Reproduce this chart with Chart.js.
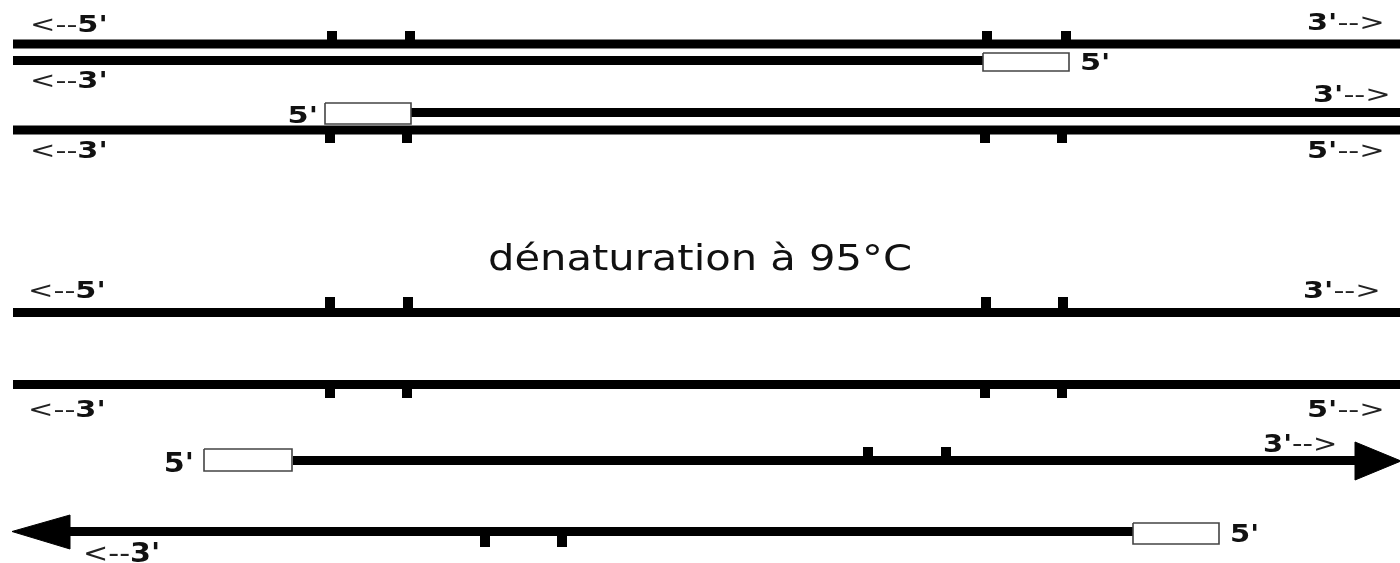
<!DOCTYPE html>
<html>
<head>
<meta charset="utf-8">
<script src="https://cdn.jsdelivr.net/npm/chart.js@4/dist/chart.umd.min.js"></script>
<style>
  html, body { margin: 0; padding: 0; background: #ffffff; }
  #wrap { width: 1400px; height: 563px; }
</style>
</head>
<body>
<div id="wrap"><canvas id="c" width="1400" height="563"></canvas></div>
<script>
// DNA strands (diagram coordinates)
const strandStart = [13, 13, 411, 13, 13, 13, 293, 70];
const strandEnd   = [1400, 983, 1400, 1400, 1400, 1400, 1356, 1133];
const strandY     = [44, 60.5, 112.5, 130, 312.5, 384.5, 460.5, 531.5];

// target-site marks
const siteX    = [332, 410, 987, 1066, 330, 407, 985, 1062, 330, 408, 986, 1063, 330, 407, 985, 1062, 868, 946, 485, 562];
const siteFrom = [31, 31, 31, 31, 130, 130, 130, 130, 297, 297, 297, 297, 384.5, 384.5, 384.5, 384.5, 447, 447, 531.5, 531.5];
const siteTo   = [44, 44, 44, 44, 143, 143, 143, 143, 312.5, 312.5, 312.5, 312.5, 398, 398, 398, 398, 460.5, 460.5, 547, 547];

// primers
const primerX0 = [983, 325, 204, 1133];
const primerX1 = [1069, 411, 292, 1219];
const primerY0 = [53, 103, 449, 523];
const primerY1 = [71, 124, 471, 544];

// arrow heads
const arrowBaseX = [1355, 70];
const arrowTop   = [442, 515];
const arrowBot   = [480, 549];
const arrowTipX  = [1401, 12];
const arrowTipY  = [461, 531.5];

// labels
const labelText  = ["<--5'", "<--3'", "5'", "<--3'", "3'-->", "5'", "3'-->", "5'-->",
                    "<--5'", "3'-->", "<--3'", "5'-->",
                    "5'", "3'-->", "5'", "<--3'"];
const labelX     = [30, 30, 318, 30, 1307, 1080, 1313, 1307,
                    28, 1303, 28, 1307,
                    194, 1263, 1230, 83];
const labelY     = [32, 88, 123, 158, 30, 70, 102, 158,
                    298, 298, 417, 417,
                    472, 452, 542, 562];
const labelAlign = ["left", "left", "right", "left", "left", "left", "left", "left",
                    "left", "left", "left", "left",
                    "right", "left", "left", "left"];
const labelSize  = [23, 23, 23, 23, 23, 23, 23, 23,
                    23, 23, 23, 23,
                    26, 25, 25, 26];

const titleText = "dénaturation à 95°C";
const titleX = 700, titleY = 270;

// ---- build datasets ----
const strandPts = [];
strandY.forEach((y, i) => {
  strandPts.push({x: strandStart[i], y: y}, {x: strandEnd[i], y: y}, {x: strandEnd[i], y: null});
});
const sitePts = [];
siteX.forEach((x, i) => {
  sitePts.push({x: x, y: siteFrom[i]}, {x: x, y: siteTo[i]}, {x: x, y: null});
});
const datasets = [
  { data: strandPts, borderColor: '#000', borderWidth: 9, borderCapStyle: 'butt', spanGaps: false, pointRadius: 0, fill: false, order: 3 },
  { data: sitePts, borderColor: '#000', borderWidth: 10, borderCapStyle: 'butt', spanGaps: false, pointRadius: 0, fill: false, order: 3 }
];
primerX0.forEach((x0, i) => {
  const x1 = primerX1[i], y0 = primerY0[i], y1 = primerY1[i];
  datasets.push({
    data: [{x: x0, y: y0}, {x: x1, y: y0}, {x: x1, y: y1}, {x: x0, y: y1}, {x: x0, y: y0}],
    borderColor: '#444', borderWidth: 1.6, backgroundColor: '#fff', fill: 'shape',
    pointRadius: 0, tension: 0, order: 1
  });
});
arrowBaseX.forEach((bx, i) => {
  datasets.push({
    data: [{x: bx, y: arrowTop[i]}, {x: arrowTipX[i], y: arrowTipY[i]}, {x: bx, y: arrowBot[i]}, {x: bx, y: arrowTop[i]}],
    borderColor: '#000', borderWidth: 1, backgroundColor: '#000', fill: 'shape',
    pointRadius: 0, tension: 0, order: 2
  });
});

// split a label into (text, bold) runs: arrows light, primes bold
function runs(t) {
  const out = [];
  const re = /(<--|-->)/g;
  let last = 0, m;
  while ((m = re.exec(t)) !== null) {
    if (m.index > last) out.push([t.slice(last, m.index), true]);
    out.push([m[0], false]);
    last = m.index + m[0].length;
  }
  if (last < t.length) out.push([t.slice(last), true]);
  return out;
}

const textPlugin = {
  id: 'textPlugin',
  afterDatasetsDraw(chart) {
    const ctx = chart.ctx, xs = chart.scales.x, ys = chart.scales.y;
    ctx.save();
    ctx.textBaseline = 'alphabetic';
    labelText.forEach((t, i) => {
      const s = labelSize[i];
      const parts = runs(t);
      ctx.save();
      ctx.translate(xs.getPixelForValue(labelX[i]), ys.getPixelForValue(labelY[i]));
      ctx.scale(s > 24 ? 1.16 : 1.32, 1);
      ctx.textAlign = 'left';
      let total = 0;
      const widths = parts.map(p => {
        ctx.font = (p[1] ? 'bold ' : '') + s + 'px "DejaVu Sans"';
        const w = ctx.measureText(p[0]).width;
        total += w;
        return w;
      });
      let x = labelAlign[i] === 'right' ? -total : 0;
      parts.forEach((p, k) => {
        ctx.font = (p[1] ? 'bold ' : '') + s + 'px "DejaVu Sans"';
        ctx.fillStyle = p[1] ? '#111' : '#222';
        ctx.fillText(p[0], x, 0);
        x += widths[k];
      });
      ctx.restore();
    });
    ctx.save();
    ctx.translate(xs.getPixelForValue(titleX), ys.getPixelForValue(titleY));
    ctx.scale(1.19, 1);
    ctx.font = '35px "DejaVu Sans"';
    ctx.textAlign = 'center';
    ctx.fillStyle = '#111';
    ctx.fillText(titleText, 0, 0);
    ctx.restore();
    ctx.restore();
  }
};

new Chart(document.getElementById('c'), {
  type: 'line',
  data: { datasets: datasets },
  options: {
    responsive: false,
    animation: false,
    layout: { padding: 0 },
    plugins: { legend: { display: false }, tooltip: { enabled: false }, title: { display: false } },
    scales: {
      x: { type: 'linear', min: 0, max: 1400, display: false },
      y: { type: 'linear', min: 0, max: 563, reverse: true, display: false }
    },
    elements: { line: { tension: 0 } }
  },
  plugins: [textPlugin]
});
</script>
</body>
</html>
